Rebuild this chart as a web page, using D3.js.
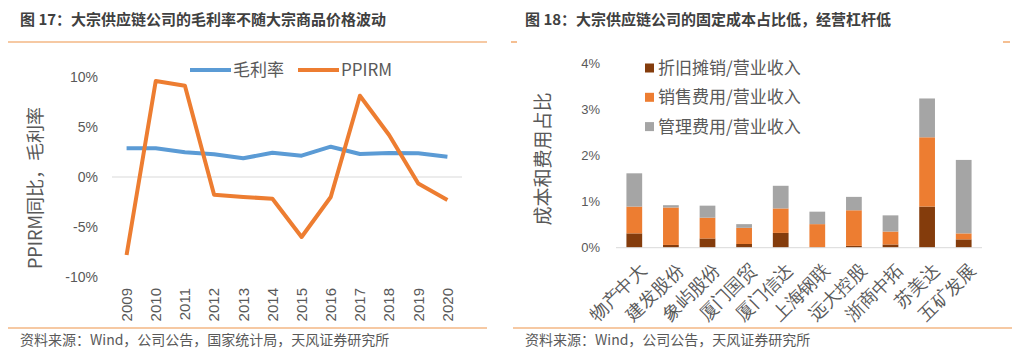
<!DOCTYPE html>
<html><head><meta charset="utf-8">
<script src="https://cdn.jsdelivr.net/npm/d3@7"></script>
<style>
body{margin:0;background:#fff;}
svg{display:block;font-family:"Noto Sans CJK SC","Noto Sans",sans-serif;}
</style></head><body>
<svg id="c" width="1020" height="355"></svg>
<script>
// ---- Data: chart 1 ----
const years = ["2009","2010","2011","2012","2013","2014","2015","2016","2017","2018","2019","2020"];
const grossMargin = [2.87,2.87,2.47,2.27,1.87,2.43,2.13,3.03,2.3,2.4,2.37,2.03];
const ppirm = [-7.8,9.6,9.13,-1.77,-2.0,-2.17,-6.0,-2.0,8.13,4.2,-0.65,-2.3];
const yTicks1 = [-10,-5,0,5,10];
const seriesNames1 = ["毛利率","PPIRM"];
// ---- Data: chart 2 ----
const companies = ["物产中大","建发股份","象屿股份","厦门国贸","厦门信达","上海钢联","远大控股","浙商中拓","苏美达","五矿发展"];
const depreciation = [0.31,0.06,0.2,0.08,0.32,0.01,0.04,0.07,0.89,0.18];
const sellingExp = [0.58,0.81,0.45,0.35,0.53,0.5,0.77,0.28,1.5,0.13];
const adminExp = [0.72,0.05,0.26,0.08,0.49,0.27,0.29,0.35,0.84,1.59];
const yTicks2 = [0,1,2,3,4];
const seriesNames2 = ["折旧摊销/营业收入","销售费用/营业收入","管理费用/营业收入"];

const svg = d3.select("#c");
const txt = "#595959";
const lineOrange = "#EE9448";

// Frames
svg.append("text").attr("x",20).attr("y",25).attr("font-size",15).attr("font-weight","bold").attr("fill","#404040")
  .text("图 17：大宗供应链公司的毛利率不随大宗商品价格波动");
svg.append("text").attr("x",525).attr("y",25).attr("font-size",15).attr("font-weight","bold").attr("fill","#404040")
  .text("图 18：大宗供应链公司的固定成本占比低，经营杠杆低");
svg.append("line").attr("x1",8).attr("x2",487).attr("y1",42).attr("y2",42).attr("stroke",lineOrange).attr("stroke-width",1.2);
svg.append("line").attr("x1",511).attr("x2",517).attr("y1",42).attr("y2",42).attr("stroke",lineOrange).attr("stroke-width",1.2);
svg.append("line").attr("x1",1003).attr("x2",1010).attr("y1",42).attr("y2",42).attr("stroke",lineOrange).attr("stroke-width",1.2);
svg.append("line").attr("x1",8).attr("x2",487).attr("y1",328).attr("y2",328).attr("stroke",lineOrange).attr("stroke-width",1.2);
svg.append("line").attr("x1",513).attr("x2",1012).attr("y1",328).attr("y2",328).attr("stroke",lineOrange).attr("stroke-width",1.2);
svg.append("text").attr("x",20).attr("y",345).attr("font-size",14).attr("fill",txt)
  .text("资料来源：Wind，公司公告，国家统计局，天风证券研究所");
svg.append("text").attr("x",525).attr("y",345).attr("font-size",14).attr("fill",txt)
  .text("资料来源：Wind，公司公告，天风证券研究所");

// ---- Chart 1 ----
const x1 = d3.scaleBand().domain(years).range([112,462]);
const y1 = d3.scaleLinear().domain([-10,10]).range([277,77]);
const g1 = svg.append("g");
g1.append("line").attr("x1",112).attr("x2",462).attr("y1",y1(0)).attr("y2",y1(0)).attr("stroke","#D9D9D9").attr("stroke-width",1);
const ya1 = g1.append("g").attr("transform","translate(100,0)")
  .call(d3.axisLeft(y1).tickValues(yTicks1).tickSize(0).tickFormat(d=>d+"%"));
ya1.select(".domain").remove();
ya1.selectAll("text").attr("font-size",14).attr("fill",txt).attr("font-family","inherit").attr("x",-2);
const xa1 = g1.append("g").attr("transform","translate(0,288)")
  .call(d3.axisBottom(x1).tickSize(0));
xa1.select(".domain").remove();
xa1.selectAll("text").attr("font-size",15).attr("fill",txt).attr("font-family","inherit")
  .attr("transform","rotate(-90)").attr("text-anchor","end").attr("x",0).attr("y",0).attr("dy","0.35em");
const line1 = d3.line().x((d,i)=>x1(years[i])+x1.bandwidth()/2).y(d=>y1(d));
g1.append("path").datum(grossMargin).attr("d",line1).attr("fill","none").attr("stroke","#5B9BD5").attr("stroke-width",4).attr("stroke-linejoin","round");
g1.append("path").datum(ppirm).attr("d",line1).attr("fill","none").attr("stroke","#ED7D31").attr("stroke-width",4).attr("stroke-linejoin","round");
g1.append("text").attr("transform","translate(42,188) rotate(-90)").attr("text-anchor","middle")
  .attr("font-size",18).attr("fill",txt).text("PPIRM同比，毛利率");
// legend 1
const leg1 = [{n:seriesNames1[0],c:"#5B9BD5",x:190},{n:seriesNames1[1],c:"#ED7D31",x:298}];
leg1.forEach(l=>{
  g1.append("line").attr("x1",l.x).attr("x2",l.x+41).attr("y1",70).attr("y2",70).attr("stroke",l.c).attr("stroke-width",4);
  g1.append("text").attr("x",l.x+43).attr("y",70).attr("dy","0.35em").attr("font-size",17).attr("fill",txt).text(l.n);
});

// ---- Chart 2 ----
const x2 = d3.scaleBand().domain(companies).range([616,982]).paddingInner(0.57).paddingOuter(0.285);
const y2 = d3.scaleLinear().domain([0,4]).range([247.7,62.9]);
const g2 = svg.append("g");
const ya2 = g2.append("g").attr("transform","translate(602,0)")
  .call(d3.axisLeft(y2).tickValues(yTicks2).tickSize(0).tickFormat(d=>d+"%"));
ya2.select(".domain").remove();
ya2.selectAll("text").attr("font-size",13).attr("fill",txt).attr("font-family","inherit").attr("x",-2);
const stackData = companies.map((c,i)=>({c, dep:depreciation[i], sell:sellingExp[i], adm:adminExp[i]}));
const keys = ["dep","sell","adm"];
const colors2 = ["#843C0C","#ED7D31","#A5A5A5"];
const stack = d3.stack().keys(keys)(stackData);
stack.forEach((s,k)=>{
  g2.append("g").selectAll("rect").data(s).join("rect")
    .attr("x",d=>x2(d.data.c)).attr("width",x2.bandwidth())
    .attr("y",d=>y2(d[1])).attr("height",d=>y2(d[0])-y2(d[1]))
    .attr("fill",colors2[k]);
});
g2.append("line").attr("x1",616).attr("x2",982).attr("y1",y2(0)).attr("y2",y2(0)).attr("stroke","#D9D9D9").attr("stroke-width",1);
const xa2 = g2.append("g").attr("transform","translate(0,"+(y2(0)+19)+")")
  .call(d3.axisBottom(x2).tickSize(0));
xa2.select(".domain").remove();
xa2.selectAll("text").attr("font-size",18).attr("fill",txt).attr("font-family","inherit")
  .attr("text-anchor","end").attr("x",0).attr("y",0).attr("dy","0.35em")
  .attr("transform","translate(9,0) rotate(-45)");
g2.append("text").attr("transform","translate(550,159) rotate(-90)").attr("text-anchor","middle")
  .attr("font-size",19).attr("fill",txt).text("成本和费用占比");
seriesNames2.forEach((n,i)=>{
  const yy = 68 + i*29.3;
  g2.append("rect").attr("x",645).attr("y",yy-4.5).attr("width",9).attr("height",9).attr("fill",colors2[i]);
  g2.append("text").attr("x",658).attr("y",yy).attr("dy","0.35em").attr("font-size",17).attr("fill",txt).text(n);
});
</script>
</body></html>
